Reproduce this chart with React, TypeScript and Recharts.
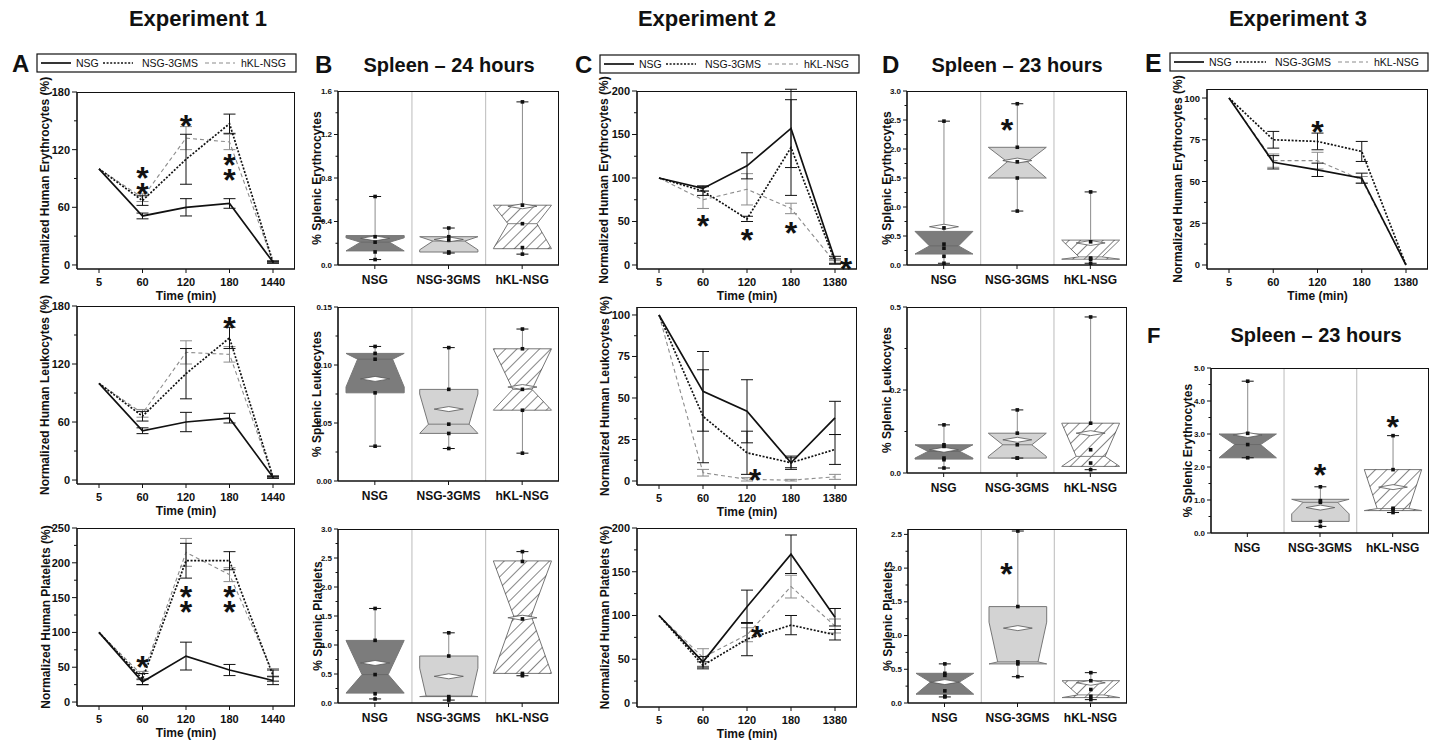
import React from 'react';
import { LineChart, Line, ErrorBar, XAxis, YAxis, ComposedChart, Bar, ReferenceDot } from 'recharts';

const FONT = '"Liberation Sans", Arial, Helvetica, sans-serif';
const INK = '#111111';

// ---- categories ----
const timesExp1 = ['5', '60', '120', '180', '1440'];
const timesExp23 = ['5', '60', '120', '180', '1380'];
const groups = ['NSG', 'NSG-3GMS', 'hKL-NSG'];

// ---- Experiment 1: blood kinetics, normalized % (mean, error) ----
const a1Nsg = [100, 51, 60, 64, 3];
const a1NsgErr = [0, 3, 9, 5, 1];
const a1Gms = [100, 67, 110, 147, 3];
const a1GmsErr = [0, 5, 26, 10, 1];
const a1Hkl = [100, 70, 132, 128, 3];
const a1HklErr = [0, 4, 12, 8, 1];
const a1Stars: [string, number][] = [['60', 98], ['60', 82], ['120', 153], ['180', 112], ['180', 96]];

const a2Nsg = [100, 51, 60, 64, 3];
const a2NsgErr = [0, 3, 10, 5, 1];
const a2Gms = [100, 66, 110, 147, 3];
const a2GmsErr = [0, 5, 26, 11, 1];
const a2Hkl = [100, 69, 132, 130, 3];
const a2HklErr = [0, 4, 12, 8, 1];
const a2Stars: [string, number][] = [['180', 165]];

const a3Nsg = [100, 29, 66, 46, 31];
const a3NsgErr = [0, 4, 20, 8, 6];
const a3Gms = [100, 33, 203, 203, 38];
const a3GmsErr = [0, 8, 25, 13, 8];
const a3Hkl = [100, 38, 215, 183, 42];
const a3HklErr = [0, 6, 20, 10, 6];
const a3Stars: [string, number][] = [['60', 61], ['120', 162], ['120', 140], ['180', 162], ['180', 140]];

// ---- Experiment 2 ----
const c1Nsg = [100, 88, 114, 157, 6];
const c1NsgErr = [0, 3, 15, 45, 4];
const c1Gms = [100, 85, 53, 135, 4];
const c1GmsErr = [0, 5, 3, 55, 3];
const c1Hkl = [100, 75, 87, 65, 3];
const c1HklErr = [0, 10, 18, 6, 2];
const c1Stars: [string, number][] = [['60', 53], ['120', 37], ['180', 46], ['1380', 4]];

const c2Nsg = [100, 54, 42, 11, 38];
const c2NsgErr = [0, 24, 19, 3, 10];
const c2Gms = [100, 39, 17, 11, 19];
const c2GmsErr = [0, 28, 13, 4, 9];
const c2Hkl = [100, 5, 1, 0.5, 2.5];
const c2HklErr = [0, 2, 1, 0.5, 1.5];
const c2Stars: [string, number][] = [['120', 5]];

const c3Nsg = [100, 47, 110, 170, 98];
const c3NsgErr = [0, 6, 19, 22, 10];
const c3Gms = [100, 43, 73, 89, 78];
const c3GmsErr = [0, 4, 19, 11, 6];
const c3Hkl = [100, 52, 78, 133, 88];
const c3HklErr = [0, 10, 8, 13, 8];
const c3Stars: [string, number][] = [['120', 84]];

// ---- Experiment 3 ----
const eNsg = [100, 61.5, 57, 52, 0];
const eNsgErr = [0, 4, 4, 3, 0];
const eGms = [100, 75, 74, 68, 0];
const eGmsErr = [0, 5, 5, 6, 0];
const eHkl = [100, 62.5, 62.5, 51, 0];
const eHklErr = [0, 4, 5, 2, 0];
const eStars: [string, number][] = [['120', 84]];

// ---- spleen box plots: whisker lo, q1, notch lo, median, notch hi, q3, whisker hi, mean, points ----
type Stat = { lo: number; q1: number; nlo: number; med: number; nhi: number; q3: number; hi: number; mean: number; pts: number[] };
const st = (lo: number, q1: number, nlo: number, med: number, nhi: number, q3: number, hi: number, mean: number, pts: number[]): Stat =>
  ({ lo, q1, nlo, med, nhi, q3, hi, mean, pts });

const spleenEry24 = [
  st(0.05, 0.13, 0.13, 0.21, 0.25, 0.27, 0.63, 0.245, [0.63, 0.26, 0.21, 0.12, 0.05]),
  st(0.11, 0.12, 0.14, 0.22, 0.26, 0.26, 0.34, 0.235, [0.34, 0.26, 0.23, 0.12, 0.11]),
  st(0.1, 0.15, 0.15, 0.38, 0.55, 0.55, 1.5, 0.54, [1.5, 0.55, 0.38, 0.16, 0.1]),
];
const spleenLeu24 = [
  st(0.03, 0.076, 0.081, 0.105, 0.11, 0.11, 0.116, 0.088, [0.116, 0.11, 0.105, 0.076, 0.03]),
  st(0.028, 0.041, 0.041, 0.049, 0.075, 0.079, 0.115, 0.062, [0.115, 0.079, 0.049, 0.041, 0.028]),
  st(0.024, 0.061, 0.061, 0.079, 0.114, 0.114, 0.131, 0.081, [0.131, 0.114, 0.079, 0.061, 0.024]),
];
const spleenPlt24 = [
  st(0.07, 0.17, 0.17, 0.49, 1.08, 1.08, 1.63, 0.69, [1.63, 1.08, 0.49, 0.16, 0.07]),
  st(0.05, 0.11, 0.11, 0.12, 0.6, 0.81, 1.21, 0.46, [1.21, 0.81, 0.11, 0.08, 0.05]),
  st(0.47, 0.51, 0.51, 1.5, 2.45, 2.45, 2.61, 1.47, [2.61, 2.44, 1.45, 0.51, 0.47]),
];
const spleenEry23 = [
  st(0.03, 0.19, 0.19, 0.33, 0.58, 0.58, 2.48, 0.66, [2.48, 0.64, 0.36, 0.29, 0.15, 0.03]),
  st(0.93, 1.5, 1.5, 1.78, 2.03, 2.03, 2.78, 1.8, [2.78, 2.03, 1.78, 1.5, 0.93]),
  st(0.03, 0.1, 0.1, 0.14, 0.43, 0.43, 1.26, 0.38, [1.26, 0.4, 0.12, 0.1, 0.03]),
];
const spleenLeu23 = [
  st(0.015, 0.042, 0.045, 0.065, 0.085, 0.085, 0.145, 0.07, [0.145, 0.085, 0.08, 0.045, 0.04, 0.015]),
  st(0.045, 0.045, 0.05, 0.085, 0.12, 0.12, 0.19, 0.1, [0.19, 0.12, 0.085, 0.045, 0.045]),
  st(0.01, 0.02, 0.02, 0.05, 0.15, 0.15, 0.47, 0.12, [0.47, 0.15, 0.07, 0.03, 0.01]),
];
const spleenPlt23 = [
  st(0.09, 0.13, 0.13, 0.31, 0.44, 0.44, 0.58, 0.31, [0.58, 0.44, 0.41, 0.18, 0.1, 0.09]),
  st(0.39, 0.58, 0.58, 0.61, 1.2, 1.43, 2.55, 1.11, [2.55, 1.43, 0.61, 0.58, 0.39]),
  st(0.05, 0.08, 0.08, 0.12, 0.33, 0.33, 0.45, 0.3, [0.45, 0.33, 0.2, 0.1, 0.05]),
];
const spleenEryExp3 = [
  st(2.28, 2.28, 2.28, 2.68, 3.0, 3.0, 4.6, 2.97, [4.6, 3.02, 2.68, 2.28]),
  st(0.2, 0.35, 0.58, 0.93, 1.02, 1.02, 1.4, 0.77, [1.4, 0.98, 0.93, 0.35, 0.2]),
  st(0.62, 0.68, 0.68, 0.74, 1.92, 1.92, 2.95, 1.39, [2.95, 1.92, 0.75, 0.72, 0.62]),
];
const d1Stars: [string, number][] = [['NSG-3GMS', 2.45]];
const d3Stars: [string, number][] = [['NSG-3GMS', 2.02]];
const fStars: [string, number][] = [['NSG-3GMS', 2.0], ['hKL-NSG', 3.45]];

// ---- styles ----
const SERIES = [
  { key: 'nsg', stroke: INK, width: 1.7, dash: undefined as string | undefined, err: INK },
  { key: 'gms', stroke: INK, width: 1.7, dash: '2 1.6', err: INK },
  { key: 'hkl', stroke: '#8c8c8c', width: 1.1, dash: '4 3', err: '#8c8c8c' },
];
const BOX_FILL = ['#7c7c7c', '#d3d3d3', '#ffffff'];
const STAR = 32;

const rowsOf = (times: string[], nsg: number[], nsgE: number[], gms: number[], gmsE: number[], hkl: number[], hklE: number[]) =>
  times.map((t, i) => ({ t, nsg: nsg[i], nsgE: nsgE[i], gms: gms[i], gmsE: gmsE[i], hkl: hkl[i], hklE: hklE[i] }));

const range = (a: number, b: number, s: number) => {
  const out: number[] = [];
  for (let v = a; v <= b + 1e-9; v += s) out.push(Math.round(v * 1000) / 1000);
  return out;
};
const sorted = (a: number[], b: number[]) => [...a, ...b].sort((u, v) => u - v);

const makeYTick = (majors: number[], fs: number, fmt: (v: number) => string, major: number, minor: number) => (p: any) => {
  const v = Number(p.payload.value);
  const isMajor = majors.some((m) => Math.abs(m - v) < 1e-9);
  return (
    <g>
      <line x1={p.x} x2={p.x - (isMajor ? major : minor)} y1={p.y} y2={p.y} stroke={INK} strokeWidth={1} />
      {isMajor && (
        <text x={p.x - major - 2} y={p.y} dominantBaseline="central" textAnchor="end" fontSize={fs} fontWeight="bold" fontFamily={FONT} fill={INK}>
          {fmt(v)}
        </text>
      )}
    </g>
  );
};

const TimeTick = (p: any) => (
  <g>
    <line x1={p.x} x2={p.x} y1={p.y} y2={p.y + 4} stroke={INK} strokeWidth={1} />
    <text x={p.x} y={p.y + 13} textAnchor="middle" dominantBaseline="central" fontSize={11} fontWeight="bold" fontFamily={FONT} fill={INK}>
      {p.payload.value}
    </text>
  </g>
);

const GroupTick = (p: any) => (
  <g>
    <line x1={p.x} x2={p.x} y1={p.y} y2={p.y + 4} stroke={INK} strokeWidth={1} />
    <text x={p.x} y={p.y + 15} textAnchor="middle" dominantBaseline="central" fontSize={12} fontWeight="bold" fontFamily={FONT} fill={INK}>
      {p.payload.value}
    </text>
  </g>
);

const XTitle = (p: any) => {
  const vb = p.viewBox || { x: 0, y: 0, width: 0 };
  return (
    <text x={vb.x + vb.width / 2} y={vb.y + p.dy} textAnchor="middle" dominantBaseline="central" fontSize={12} fontWeight="bold" fontFamily={FONT} fill={INK}>
      {p.text}
    </text>
  );
};

const YTitle = (p: any) => {
  const vb = p.viewBox || { x: 0, y: 0, width: 0, height: 0 };
  const tx = vb.x + vb.width + p.dx;
  const ty = vb.y + vb.height / 2;
  return (
    <text x={tx} y={ty} transform={`rotate(-90 ${tx} ${ty})`} textAnchor="middle" dominantBaseline="central" fontSize={12} fontWeight="bold" fontFamily={FONT} fill={INK}>
      {p.text}
    </text>
  );
};

const StarMark = ({ cx, cy, dx = 0 }: any) => (
  <text x={cx + dx} y={cy + STAR * 0.58} textAnchor="middle" fontSize={STAR} fontWeight="bold" fontFamily={FONT} fill={INK}>
    *
  </text>
);

const Frame = ({ left, top, width, height }: any) => (
  <div
    style={{
      position: 'absolute', left, top, width, height, boxSizing: 'border-box',
      borderTop: `1.6px solid ${INK}`, borderRight: `1.6px solid ${INK}`, pointerEvents: 'none',
    }}
  />
);

// ---- time course panel ----
type TimeSpec = {
  rows: any[]; stars: [string, number][]; starDx?: number[]; yTitle: string; tickFs?: number;
  plot: [number, number, number, number]; domain: [number, number]; majors: number[]; minors: number[]; titleDx: number;
};
const T_YW = 62, T_MT = 32, T_MR = 6, T_XH = 40;

function TimePanel(p: TimeSpec) {
  const [x0, y0, x1, y1] = p.plot;
  const w = x1 - x0 + T_YW + T_MR;
  const h = y1 - y0 + T_MT + T_XH;
  return (
    <div style={{ position: 'absolute', left: x0 - T_YW, top: y0 - T_MT, width: w, height: h }}>
      <LineChart width={w} height={h} data={p.rows} margin={{ top: T_MT, right: T_MR, left: 0, bottom: 0 }}>
        <XAxis
          dataKey="t" type="category" padding={{ left: 22, right: 22 }} height={T_XH} interval={0}
          tickSize={0} tickMargin={0} tickLine={false} tick={TimeTick}
          axisLine={{ stroke: INK, strokeWidth: 1.6 }} label={<XTitle text="Time (min)" dy={27} />}
        />
        <YAxis
          type="number" domain={p.domain} allowDataOverflow ticks={sorted(p.majors, p.minors)} interval={0} width={T_YW}
          tickSize={0} tickMargin={0} tickLine={false} tick={makeYTick(p.majors, p.tickFs || 11, (v) => String(v), 5, 3)}
          axisLine={{ stroke: INK, strokeWidth: 1.6 }} label={<YTitle text={p.yTitle} dx={p.titleDx} />}
        />
        {SERIES.slice().reverse().map((s) => (
          <Line
            key={s.key} dataKey={s.key} type="linear" stroke={s.stroke} strokeWidth={s.width} strokeDasharray={s.dash}
            dot={false} activeDot={false} isAnimationActive={false}
          >
            <ErrorBar dataKey={s.key + 'E'} width={6} stroke={s.err} strokeWidth={1} direction="y" />
          </Line>
        ))}
        {p.stars.map(([t, v], i) => (
          <ReferenceDot
            key={i} x={t} y={v} r={6} ifOverflow="visible"
            shape={(sp: any) => <StarMark cx={sp.cx} cy={sp.cy} dx={p.starDx ? p.starDx[i] : 0} />}
          />
        ))}
      </LineChart>
      <Frame left={T_YW} top={T_MT} width={x1 - x0} height={y1 - y0} />
    </div>
  );
}

// ---- spleen box panel ----
type BoxSpec = {
  id: string; stats: Stat[]; stars: [string, number][]; starDx?: number[]; yTitle: string;
  plot: [number, number, number, number]; domain: [number, number]; majors: number[]; minors: number[];
  fmt: (v: number) => string; titleDx: number; notch: number[];
};
const B_YW = 50, B_MT = 24, B_MR = 6, B_XH = 36;

function BoxPanel(s: BoxSpec) {
  const [x0, y0, x1, y1] = s.plot;
  const w = x1 - x0 + B_YW + B_MR;
  const h = y1 - y0 + B_MT + B_XH;
  const bandW = (x1 - x0) / groups.length;
  const rows = groups.map((g, i) => ({ g, i, range: [s.stats[i].lo, s.stats[i].hi] }));

  const shape = (p: any) => {
    const i = p.payload && p.payload.i !== undefined ? p.payload.i : p.index || 0;
    const d = s.stats[i];
    const yTop = Math.min(p.y, p.y + p.height);
    const k = Math.abs(p.height) / (d.hi - d.lo);
    const Y = (v: number) => yTop + (d.hi - v) * k;
    const cx = p.x + p.width / 2;
    const hw = p.width / 2;
    const nw = hw * s.notch[i];
    const L = cx - hw, R = cx + hw;
    const poly = [
      [L, Y(d.q3)], [R, Y(d.q3)], [R, Y(d.nhi)], [cx + nw, Y(d.med)], [R, Y(d.nlo)], [R, Y(d.q1)],
      [L, Y(d.q1)], [L, Y(d.nlo)], [cx - nw, Y(d.med)], [L, Y(d.nhi)],
    ].map(([a, b]) => `${a.toFixed(1)},${b.toFixed(1)}`).join(' ');
    const hatch = i === 2;
    const pid = `${s.id}-hatch`;
    const dm = Y(d.mean);
    const dw = hw * 0.5;
    return (
      <g>
        {i < groups.length - 1 && (
          <line x1={cx + bandW / 2} x2={cx + bandW / 2} y1={Y(s.domain[1])} y2={Y(s.domain[0])} stroke="#c6c6c6" strokeWidth={1.2} />
        )}
        {hatch && (
          <defs>
            <pattern id={pid} patternUnits="userSpaceOnUse" width={8} height={8} patternTransform="rotate(45)">
              <line x1={0} y1={0} x2={0} y2={8} stroke="#222" strokeWidth={1.1} />
            </pattern>
          </defs>
        )}
        <line x1={cx} x2={cx} y1={Y(d.hi)} y2={Y(d.lo)} stroke="#8c8c8c" strokeWidth={1} />
        <polygon points={poly} fill={BOX_FILL[i]} stroke="#777" strokeWidth={1} />
        {hatch && <polygon points={poly} fill={`url(#${pid})`} stroke="none" />}
        <line x1={cx - nw} x2={cx + nw} y1={Y(d.med)} y2={Y(d.med)} stroke="#666" strokeWidth={0.8} />
        <polygon
          points={`${cx - dw},${dm} ${cx},${dm - 2.5} ${cx + dw},${dm} ${cx},${dm + 2.5}`}
          fill="#ffffff" stroke="#555" strokeWidth={0.8}
        />
        {[d.hi, d.lo].map((v, j) => (
          <line key={j} x1={cx - 6} x2={cx + 6} y1={Y(v)} y2={Y(v)} stroke={INK} strokeWidth={1} />
        ))}
        {d.pts.map((v, j) => (
          <rect key={'p' + j} x={cx - 1.8} y={Y(v) - 1.8} width={3.6} height={3.6} fill={INK} />
        ))}
      </g>
    );
  };

  return (
    <div style={{ position: 'absolute', left: x0 - B_YW, top: y0 - B_MT, width: w, height: h }}>
      <ComposedChart width={w} height={h} data={rows} margin={{ top: B_MT, right: B_MR, left: 0, bottom: 0 }}>
        <XAxis
          dataKey="g" type="category" height={B_XH} interval={0} tickSize={0} tickMargin={0} tickLine={false}
          tick={GroupTick} axisLine={{ stroke: INK, strokeWidth: 1.6 }}
        />
        <YAxis
          type="number" domain={s.domain} allowDataOverflow ticks={sorted(s.majors, s.minors)} interval={0} width={B_YW}
          tickSize={0} tickMargin={0} tickLine={false} tick={makeYTick(s.majors, 8, s.fmt, 4, 2.5)}
          axisLine={{ stroke: INK, strokeWidth: 1.6 }} label={<YTitle text={s.yTitle} dx={s.titleDx} />}
        />
        <Bar dataKey="range" barSize={bandW * 0.79} shape={shape} isAnimationActive={false} />
        {s.stars.map(([g, v], i) => (
          <ReferenceDot
            key={i} x={g} y={v} r={6} ifOverflow="visible"
            shape={(sp: any) => <StarMark cx={sp.cx} cy={sp.cy} dx={s.starDx ? s.starDx[i] : 0} />}
          />
        ))}
      </ComposedChart>
      <Frame left={B_YW} top={B_MT} width={x1 - x0} height={y1 - y0} />
    </div>
  );
}

// ---- legend box (same styles as the lines) ----
const LegendBox = ({ x, y, w }: { x: number; y: number; w: number }) => {
  const lineAt = [4, 66, 168];
  const textAt = [39, 105, 204];
  return (
    <g>
      <rect x={x} y={y} width={w} height={18} fill="#fff" stroke={INK} strokeWidth={1.2} />
      {SERIES.map((s, i) => (
        <g key={s.key}>
          <line x1={x + lineAt[i]} x2={x + lineAt[i] + 30} y1={y + 9} y2={y + 9} stroke={s.stroke} strokeWidth={s.width} strokeDasharray={s.dash} />
          <text x={x + textAt[i]} y={y + 13} fontSize={10.5} fontFamily={FONT} fill={INK}>{groups[i]}</text>
        </g>
      ))}
    </g>
  );
};

const fmt1 = (v: number) => v.toFixed(1);
const fmt2 = (v: number) => v.toFixed(2);
const fmtFloor1 = (v: number) => (Math.floor(v * 10 + 1e-9) / 10).toFixed(1);

export default function App() {
  return (
    <div style={{ position: 'absolute', left: 0, top: 0, width: 1432, height: 740, background: '#fff', overflow: 'hidden', fontFamily: FONT }}>
      <svg width={1432} height={740} style={{ position: 'absolute', left: 0, top: 0 }}>
        <g fontFamily={FONT} fontWeight="bold" fill={INK}>
          <text x={198} y={26} textAnchor="middle" fontSize={22}>Experiment 1</text>
          <text x={707} y={26} textAnchor="middle" fontSize={22}>Experiment 2</text>
          <text x={1298} y={26} textAnchor="middle" fontSize={22}>Experiment 3</text>
          <text x={12} y={72} fontSize={24}>A</text>
          <text x={315} y={73} fontSize={24}>B</text>
          <text x={575} y={72.5} fontSize={24}>C</text>
          <text x={882} y={73} fontSize={24}>D</text>
          <text x={1145} y={72} fontSize={25}>E</text>
          <text x={1147} y={343} fontSize={22}>F</text>
          <text x={449} y={72} textAnchor="middle" fontSize={20}>Spleen – 24 hours</text>
          <text x={1017} y={72} textAnchor="middle" fontSize={20}>Spleen – 23 hours</text>
          <text x={1316} y={342} textAnchor="middle" fontSize={20}>Spleen – 23 hours</text>
        </g>
        <LegendBox x={37} y={54} w={259} />
        <LegendBox x={600} y={55} w={259} />
        <LegendBox x={1170} y={53} w={258} />
      </svg>

      {/* Experiment 1 */}
      <TimePanel rows={rowsOf(timesExp1, a1Nsg, a1NsgErr, a1Gms, a1GmsErr, a1Hkl, a1HklErr)} stars={a1Stars}
        yTitle="Normalized Human Erythrocytes (%)" plot={[77, 92, 295, 269]} domain={[-4.2, 180]}
        majors={[0, 60, 120, 180]} minors={[30, 90, 150]} titleDx={-32} />
      <TimePanel rows={rowsOf(timesExp1, a2Nsg, a2NsgErr, a2Gms, a2GmsErr, a2Hkl, a2HklErr)} stars={a2Stars}
        yTitle="Normalized Human Leukocytes (%)" plot={[77, 306, 295, 484]} domain={[-4.1, 180]}
        majors={[0, 60, 120, 180]} minors={[30, 90, 150]} titleDx={-32} />
      <TimePanel rows={rowsOf(timesExp1, a3Nsg, a3NsgErr, a3Gms, a3GmsErr, a3Hkl, a3HklErr)} stars={a3Stars}
        yTitle="Normalized Human Platelets (%)" plot={[77, 528, 295, 706]} domain={[-5.7, 250]}
        majors={range(0, 250, 50)} minors={range(25, 225, 50)} titleDx={-31} />

      <BoxPanel id="b1" stats={spleenEry24} stars={[]} yTitle="% Splenic Erythrocytes" plot={[338, 91, 559, 265]}
        domain={[0, 1.6]} majors={range(0, 1.6, 0.4)} minors={range(0.2, 1.4, 0.4)} fmt={fmt1} titleDx={-21} notch={[0.5, 0.55, 0.5]} />
      <BoxPanel id="b2" stats={spleenLeu24} stars={[]} yTitle="% Splenic Leukocytes" plot={[338, 307, 559, 481]}
        domain={[0, 0.15]} majors={range(0, 0.15, 0.05)} minors={range(0.025, 0.125, 0.05)} fmt={fmt2} titleDx={-21} notch={[0.6, 0.7, 0.33]} />
      <BoxPanel id="b3" stats={spleenPlt24} stars={[]} yTitle="% Splenic Platelets" plot={[338, 529, 559, 703]}
        domain={[0, 3]} majors={range(0, 3, 0.5)} minors={range(0.25, 2.75, 0.5)} fmt={fmt1} titleDx={-20} notch={[0.45, 0.78, 0.3]} />

      {/* Experiment 2 */}
      <TimePanel rows={rowsOf(timesExp23, c1Nsg, c1NsgErr, c1Gms, c1GmsErr, c1Hkl, c1HklErr)} stars={c1Stars} starDx={[0, 0, 0, 11]}
        yTitle="Normalized Human Erythrocytes (%)" plot={[637, 91, 857, 269]} domain={[-4.6, 200]}
        majors={range(0, 200, 50)} minors={range(25, 175, 50)} titleDx={-33} />
      <TimePanel rows={rowsOf(timesExp23, c2Nsg, c2NsgErr, c2Gms, c2GmsErr, c2Hkl, c2HklErr)} stars={c2Stars} starDx={[8]}
        yTitle="Normalized Human Leukocytes (%)" plot={[637, 307, 857, 485]} domain={[-2.4, 104.8]}
        majors={range(0, 100, 25)} minors={range(12.5, 87.5, 25)} titleDx={-32} />
      <TimePanel rows={rowsOf(timesExp23, c3Nsg, c3NsgErr, c3Gms, c3GmsErr, c3Hkl, c3HklErr)} stars={c3Stars} starDx={[10]}
        yTitle="Normalized Human Platelets (%)" plot={[637, 528, 857, 707]} domain={[-4.6, 200]}
        majors={range(0, 200, 50)} minors={range(25, 175, 50)} titleDx={-32} />

      <BoxPanel id="d1" stats={spleenEry23} stars={d1Stars} starDx={[-10]} yTitle="% Splenic Erythrocytes" plot={[907, 91, 1127, 265]}
        domain={[0, 3]} majors={range(0, 3, 0.5)} minors={range(0.25, 2.75, 0.5)} fmt={fmt1} titleDx={-20} notch={[0.5, 0.35, 0.4]} />
      <BoxPanel id="d2" stats={spleenLeu23} stars={[]} yTitle="% Splenic Leukocytes" plot={[907, 307, 1127, 473]}
        domain={[0, 0.5]} majors={[0, 0.25, 0.5]} minors={[0.125, 0.375]} fmt={fmtFloor1} titleDx={-20} notch={[0.55, 0.5, 0.5]} />
      <BoxPanel id="d3" stats={spleenPlt23} stars={d3Stars} starDx={[-11]} yTitle="% Splenic Platelets" plot={[908, 529, 1127, 703]}
        domain={[0, 2.58]} majors={range(0, 2.5, 0.5)} minors={range(0.25, 2.25, 0.5)} fmt={fmt1} titleDx={-20} notch={[0.5, 0.7, 0.45]} />

      {/* Experiment 3 */}
      <TimePanel rows={rowsOf(timesExp23, eNsg, eNsgErr, eGms, eGmsErr, eHkl, eHklErr)} stars={eStars} tickFs={9.5}
        yTitle="Normalized Human Erythrocytes (%)" plot={[1207, 89, 1428, 269]} domain={[-2.4, 105.4]}
        majors={range(0, 100, 25)} minors={range(12.5, 87.5, 25)} titleDx={-29} />
      <BoxPanel id="f" stats={spleenEryExp3} stars={fStars} yTitle="% Splenic Erythrocytes" plot={[1211, 368, 1429, 533]}
        domain={[0, 5]} majors={range(0, 5, 1)} minors={range(0.5, 4.5, 1)} fmt={fmt1} titleDx={-23} notch={[0.45, 0.6, 0.55]} />
    </div>
  );
}
